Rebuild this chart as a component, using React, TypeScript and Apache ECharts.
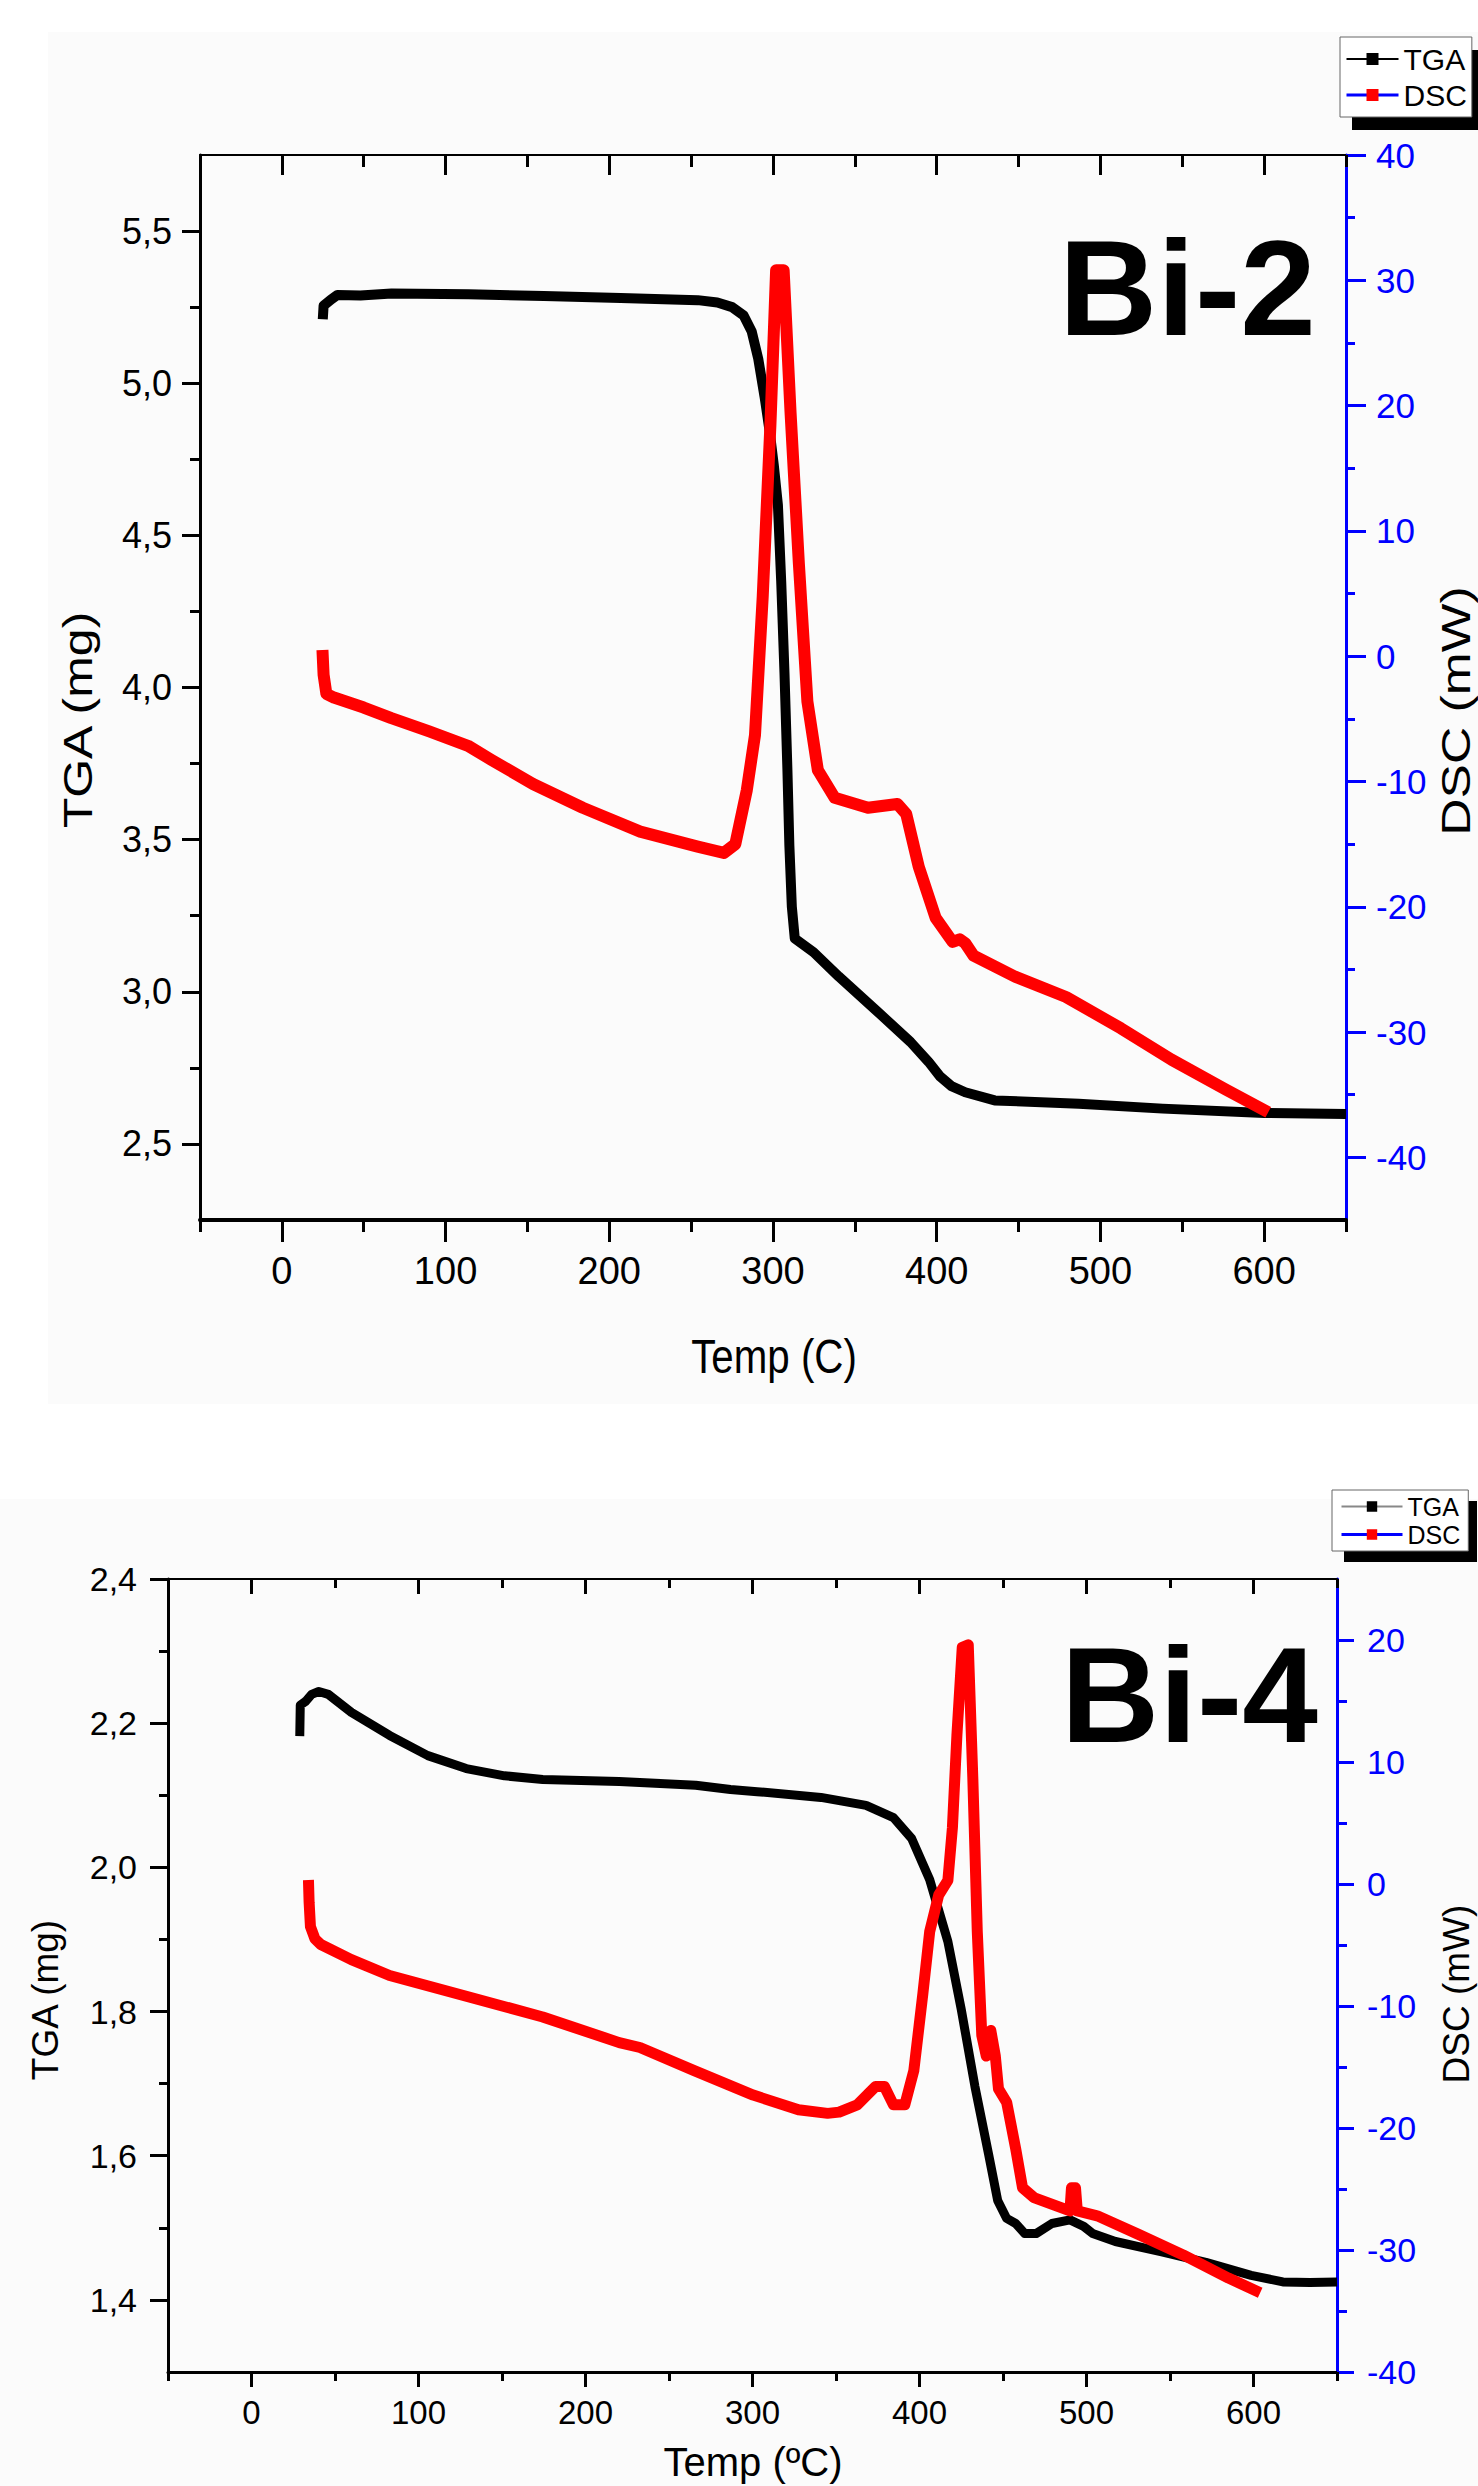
import React, { useEffect, useRef } from "react";
import * as echarts from "echarts";

// ---------- Bi-2 (top) ----------
const tga2T = [25, 25.5, 30, 34, 48, 67, 114, 160, 207, 254, 266, 275, 282, 287, 291, 295, 298, 300.5, 303, 305, 307, 308.8, 310, 311.5, 313.3, 324.8, 340.2, 363.4, 384, 395, 402, 409, 417.4, 435.4, 486.8, 538, 600, 650];
const tga2V = [5.21, 5.255, 5.275, 5.29, 5.288, 5.295, 5.292, 5.287, 5.28, 5.273, 5.265, 5.25, 5.223, 5.17, 5.08, 4.95, 4.84, 4.73, 4.6, 4.35, 4.05, 3.73, 3.48, 3.28, 3.175, 3.13, 3.05, 2.937, 2.835, 2.77, 2.722, 2.69, 2.67, 2.643, 2.632, 2.616, 2.602, 2.598];
const dsc2T = [24.8, 25.5, 27.2, 31.8, 50, 66.9, 90, 113.7, 127.7, 153.4, 183.8, 218.9, 254, 270, 277, 284, 289, 293.7, 298.4, 301.9, 306.5, 310.7, 315.8, 321, 327.4, 337.7, 358, 370, 376, 381.4, 389, 399.4, 409.7, 414, 417.4, 422.5, 448.2, 479, 512.5, 543.4, 576.8, 602.5];
const dsc2V = [0.5, -1.5, -3.0, -3.3, -4.1, -4.95, -6.0, -7.15, -8.25, -10.2, -12.1, -14.0, -15.2, -15.7, -15.0, -10.7, -6.3, 4.7, 18.4, 30.8, 30.8, 19.5, 7.4, -3.6, -9.1, -11.3, -12.1, -11.9, -11.8, -12.6, -16.8, -20.9, -22.8, -22.6, -22.9, -23.9, -25.6, -27.2, -29.7, -32.2, -34.6, -36.4];

// ---------- Bi-4 (bottom) ----------
const tga4T = [28.9, 29.2, 32.3, 36, 40.3, 46, 59.8, 82.7, 105.6, 128.6, 151.5, 174.4, 220.2, 266, 286.8, 302.8, 341, 368, 384.4, 395.3, 406.1, 417, 425, 433.2, 441.3, 446.8, 452.2, 457.6, 463, 469.8, 479.3, 490.1, 498.3, 503.7, 517.3, 544.4, 571.5, 598.6, 617.6, 633.8, 650];
const tga4V = [2.182, 2.225, 2.23, 2.24, 2.244, 2.24, 2.215, 2.183, 2.155, 2.137, 2.127, 2.122, 2.119, 2.114, 2.108, 2.105, 2.097, 2.086, 2.069, 2.04, 1.983, 1.897, 1.803, 1.696, 1.603, 1.538, 1.513, 1.506, 1.492, 1.492, 1.506, 1.511, 1.502, 1.492, 1.481, 1.467, 1.452, 1.434, 1.425, 1.424, 1.425];
const dsc4T = [34.1, 34.5, 35.3, 38, 41.5, 59.8, 82.7, 128.6, 174.4, 220.2, 232.6, 265.1, 300.4, 327.5, 345, 351.9, 362.7, 373.6, 379, 384.4, 391.2, 396.6, 402, 406.1, 411.5, 417, 419.7, 422.4, 425.6, 429.2, 431.9, 434.6, 437.3, 440, 442.7, 445.4, 447.3, 452.2, 457.6, 461.7, 468.5, 490.1, 491, 493.4, 494.5, 506.4, 530.8, 557.9, 585, 604];
const dsc4V = [0.33, -1.5, -3.5, -4.5, -4.96, -6.2, -7.5, -9.2, -10.9, -13.0, -13.4, -15.3, -17.3, -18.5, -18.8, -18.7, -18.1, -16.6, -16.6, -18.1, -18.1, -15.3, -9.0, -3.9, -0.9, 0.3, 4.6, 12.2, 19.4, 19.6, 8.8, -3.9, -12.4, -14.1, -12.0, -14.1, -16.8, -17.9, -21.7, -24.9, -25.7, -26.8, -24.9, -24.9, -26.8, -27.2, -28.7, -30.4, -32.3, -33.5];

// ---------- ticks ----------
const tempMajor = [0, 100, 200, 300, 400, 500, 600];
const tempMinor = [-50, 50, 150, 250, 350, 450, 550, 650];
const tga2Major = [2.5, 3, 3.5, 4, 4.5, 5, 5.5];
const tga2Minor = [2.75, 3.25, 3.75, 4.25, 4.75, 5.25];
const dsc2Major = [-40, -30, -20, -10, 0, 10, 20, 30, 40];
const dsc2Minor = [-35, -25, -15, -5, 5, 15, 25, 35];
const tga4Major = [1.4, 1.6, 1.8, 2.0, 2.2, 2.4];
const tga4Minor = [1.5, 1.7, 1.9, 2.1, 2.3];
const dsc4Major = [-40, -30, -20, -10, 0, 10, 20];
const dsc4Minor = [-35, -25, -15, -5, 5, 15];

const FONT = "'Liberation Sans', Arial, sans-serif";
const NARROW = "'Liberation Sans Narrow', 'Liberation Sans', Arial, sans-serif";
const BLUE = "#0000ff";
const RED = "#ff0000";

const pts = (xs: number[], ys: number[]) => xs.map((x, i) => [x, ys[i]]);
const comma = (v: number) => v.toFixed(1).replace(".", ",");

function ax(o: any) {
  const a: any = {
    type: "value",
    gridIndex: o.grid,
    position: o.pos,
    min: o.min,
    max: o.max,
    splitLine: { show: false },
    axisPointer: { show: false },
    axisLine: { show: (o.lineW || 0) > 0, onZero: false, lineStyle: { color: o.color, width: o.lineW || 1 } },
    axisTick: {
      show: true,
      inside: !!o.inside,
      customValues: o.ticks,
      length: o.len,
      lineStyle: { color: o.color, width: o.tickW || 3 },
    },
    axisLabel: { show: false },
  };
  if (o.labels) {
    a.axisLabel = {
      show: true,
      customValues: o.labels,
      margin: o.margin,
      color: o.color,
      fontFamily: o.font,
      fontSize: o.size,
    };
    if (o.fmt) a.axisLabel.formatter = o.fmt;
  }
  return a;
}

function txt(text: string, x: number, y: number, size: number, opts: any = {}) {
  return {
    type: "text",
    x,
    y,
    rotation: opts.rot || 0,
    scaleX: opts.sx || 1,
    scaleY: opts.sy || 1,
    z: 10,
    style: {
      text,
      fill: opts.color || "#000",
      fontSize: size,
      fontFamily: opts.font || FONT,
      fontWeight: opts.weight || "normal",
      align: opts.align || "center",
      verticalAlign: "middle",
    },
  };
}

const lineSeries = (name: string, xi: number, yi: number, data: number[][], color: string, width: number, z: number) => ({
  type: "line",
  name,
  xAxisIndex: xi,
  yAxisIndex: yi,
  data,
  showSymbol: false,
  symbol: "rect",
  silent: true,
  z,
  itemStyle: { color },
  lineStyle: { color, width, cap: "butt", join: "round" },
});

export default function App() {
  const ref = useRef<HTMLDivElement>(null);

  useEffect(() => {
    if (!ref.current) return;
    const chart = echarts.init(ref.current, undefined, { renderer: "svg" });

    const option: any = {
      animation: false,
      grid: [
        { left: 200, top: 155, width: 1146, height: 1065, show: false },
        { left: 168, top: 1579, width: 1169, height: 793, show: false },
      ],
      xAxis: [
        // grid 0
        ax({ grid: 0, pos: "bottom", min: -50, max: 650, color: "#000", lineW: 4, ticks: tempMajor, len: 22, labels: tempMajor, margin: 32, font: NARROW, size: 38 }),
        ax({ grid: 0, pos: "bottom", min: -50, max: 650, color: "#000", lineW: 0, ticks: tempMinor, len: 12 }),
        ax({ grid: 0, pos: "top", min: -50, max: 650, color: "#000", lineW: 2, ticks: tempMajor, len: 20, inside: true }),
        ax({ grid: 0, pos: "top", min: -50, max: 650, color: "#000", lineW: 0, ticks: tempMinor, len: 12, inside: true }),
        // grid 1
        ax({ grid: 1, pos: "bottom", min: -50, max: 650, color: "#000", lineW: 3, ticks: tempMajor, len: 15, labels: tempMajor, margin: 24, font: FONT, size: 33 }),
        ax({ grid: 1, pos: "bottom", min: -50, max: 650, color: "#000", lineW: 0, ticks: tempMinor, len: 9 }),
        ax({ grid: 1, pos: "top", min: -50, max: 650, color: "#000", lineW: 2, ticks: tempMajor, len: 15, inside: true }),
        ax({ grid: 1, pos: "top", min: -50, max: 650, color: "#000", lineW: 0, ticks: tempMinor, len: 9, inside: true }),
      ],
      yAxis: [
        // grid 0
        ax({ grid: 0, pos: "left", min: 2.25, max: 5.75, color: "#000", lineW: 3, ticks: tga2Major, len: 18, labels: tga2Major, margin: 28, font: FONT, size: 36, fmt: comma }),
        ax({ grid: 0, pos: "left", min: 2.25, max: 5.75, color: "#000", lineW: 0, ticks: tga2Minor, len: 10 }),
        ax({ grid: 0, pos: "right", min: -45, max: 40, color: BLUE, lineW: 3, ticks: dsc2Major, len: 20, labels: dsc2Major, margin: 30, font: FONT, size: 35 }),
        ax({ grid: 0, pos: "right", min: -45, max: 40, color: BLUE, lineW: 0, ticks: dsc2Minor, len: 9 }),
        // grid 1
        ax({ grid: 1, pos: "left", min: 1.3, max: 2.4, color: "#000", lineW: 3, ticks: tga4Major, len: 18, labels: tga4Major, margin: 31, font: FONT, size: 34, fmt: comma }),
        ax({ grid: 1, pos: "left", min: 1.3, max: 2.4, color: "#000", lineW: 0, ticks: tga4Minor, len: 9 }),
        ax({ grid: 1, pos: "right", min: -40, max: 25, color: BLUE, lineW: 3, ticks: dsc4Major, len: 17, labels: dsc4Major, margin: 30, font: FONT, size: 34 }),
        ax({ grid: 1, pos: "right", min: -40, max: 25, color: BLUE, lineW: 0, ticks: dsc4Minor, len: 10 }),
      ],
      legend: [
        {
          left: 1340,
          top: 37,
          orient: "vertical",
          padding: [7, 5],
          itemGap: 6,
          itemWidth: 52,
          itemHeight: 15,
          backgroundColor: "#fff",
          borderColor: "#666",
          borderWidth: 1,
          selectedMode: false,
          textStyle: { fontFamily: NARROW, fontSize: 30, color: "#000" },
          data: [
            { name: "TGA", itemStyle: { color: "#000", borderWidth: 0 }, lineStyle: { color: "#000", width: 2 } },
            { name: "DSC", itemStyle: { color: RED, borderWidth: 0 }, lineStyle: { color: BLUE, width: 3 } },
          ],
        },
        {
          left: 1332,
          top: 1490,
          orient: "vertical",
          padding: [4, 8],
          itemGap: 3,
          itemWidth: 61,
          itemHeight: 13,
          backgroundColor: "#fff",
          borderColor: "#666",
          borderWidth: 1,
          selectedMode: false,
          textStyle: { fontFamily: FONT, fontSize: 25, color: "#000" },
          data: [
            { name: "TGA", itemStyle: { color: "#000", borderWidth: 0 }, lineStyle: { color: "#888", width: 2 } },
            { name: "DSC", itemStyle: { color: RED, borderWidth: 0 }, lineStyle: { color: BLUE, width: 3 } },
          ],
        },
      ],
      series: [
        lineSeries("TGA", 0, 0, pts(tga2T, tga2V), "#000", 10, 3),
        lineSeries("DSC", 0, 2, pts(dsc2T, dsc2V), RED, 12, 4),
        lineSeries("TGA", 4, 4, pts(tga4T, tga4V), "#000", 9, 3),
        lineSeries("DSC", 4, 6, pts(dsc4T, dsc4V), RED, 11, 4),
      ],
      graphic: [
        { type: "rect", z: 1, shape: { x: 1352, y: 50, width: 130, height: 80 }, style: { fill: "#000" } },
        { type: "rect", z: 1, shape: { x: 1344, y: 1501, width: 133, height: 61 }, style: { fill: "#000" } },
        txt("Bi-2", 1059, 288, 136, { weight: "bold", align: "left" }),
        txt("Bi-4", 1061, 1695, 136, { weight: "bold", align: "left" }),
        txt("TGA (mg)", 78, 720, 40, { rot: Math.PI / 2, sx: 1.25 }),
        txt("DSC (mW)", 1456, 711, 40, { rot: Math.PI / 2, sx: 1.29 }),
        txt("Temp (C)", 774, 1356, 48, { sx: 0.84 }),
        txt("TGA (mg)", 45, 2000, 37, { rot: Math.PI / 2 }),
        txt("DSC (mW)", 1456, 1994, 37, { rot: Math.PI / 2 }),
        txt("Temp (ºC)", 753, 2462, 40),
      ],
    };

    chart.setOption(option);
    return () => chart.dispose();
  }, []);

  return (
    <div style={{ position: "absolute", left: 0, top: 0, width: 1478, height: 2486, background: "#fff" }}>
      <div style={{ position: "absolute", left: 48, top: 32, width: 1430, height: 1372, background: "#fbfbfb" }} />
      <div style={{ position: "absolute", left: 0, top: 1499, width: 1478, height: 987, background: "#fbfbfb" }} />
      <div ref={ref} style={{ position: "absolute", left: 0, top: 0, width: 1478, height: 2486 }} />
    </div>
  );
}
